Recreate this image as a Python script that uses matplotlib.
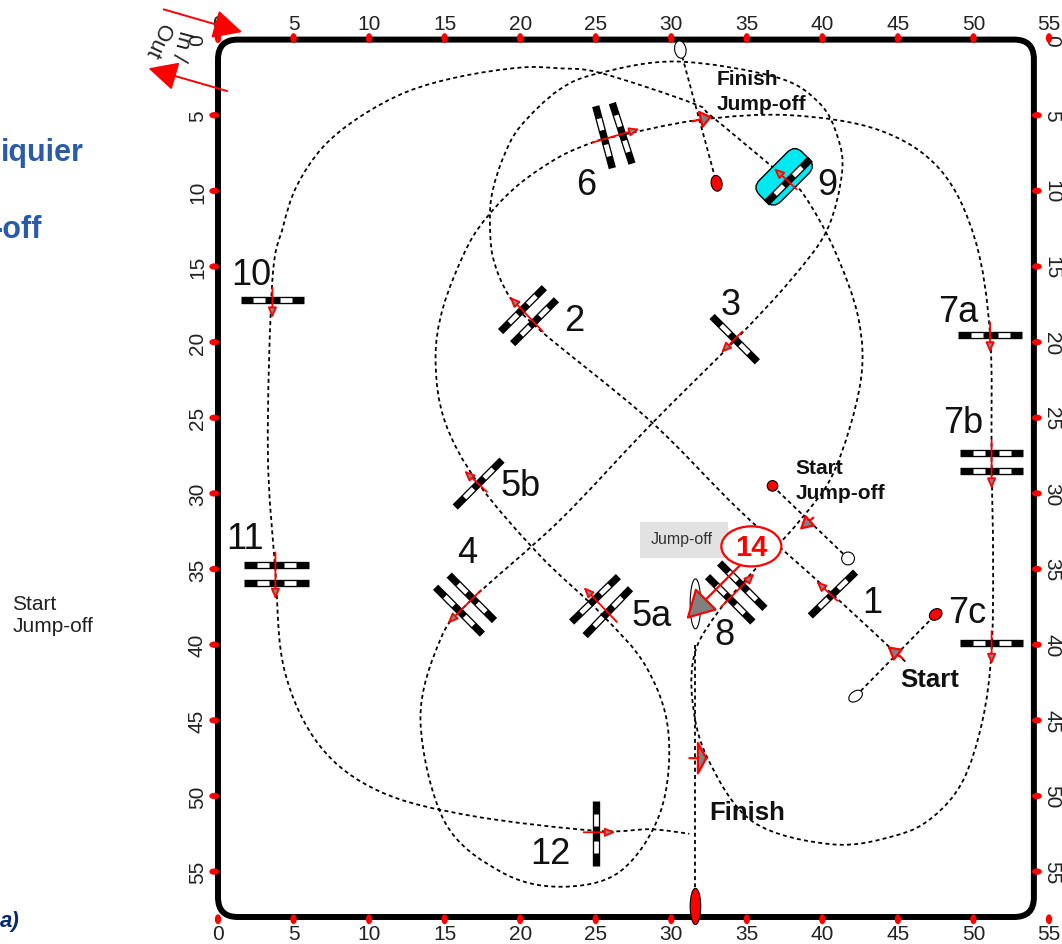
import matplotlib
matplotlib.use("Agg")
import matplotlib.pyplot as plt
from matplotlib.patches import Ellipse, FancyBboxPatch, Rectangle
from matplotlib.path import Path
from matplotlib.patches import PathPatch
from matplotlib.transforms import Affine2D

plt.rcParams['font.family'] = ['Liberation Sans', 'DejaVu Sans']

# arena, in metres
arena_w = 54
arena_h = 58
x_ticks = [0, 5, 10, 15, 20, 25, 30, 35, 40, 45, 50, 55]
y_ticks = [0, 5, 10, 15, 20, 25, 30, 35, 40, 45, 50, 55]

# course (x, y in metres)
route = [(45.5, 41.1), (44.7, 40.4), (40.6, 36.6), (34.5, 31.1), (28.6, 25.2), (21.3, 19.2),
         (19.3, 17.0), (18.2, 14.4), (18.0, 11.7), (18.2, 9.9), (18.9, 7.75), (20.0, 5.75),
         (22.6, 3.3), (25.3, 2.2), (30.4, 1.45), (37.0, 2.5), (39.8, 4.2), (41.0, 6.4),
         (41.3, 8.8), (40.3, 12.6), (37.9, 15.9), (34.2, 19.9), (28.6, 25.5),
         (22.6, 31.8), (16.7, 37.1), (14.7, 39.7), (13.4, 45.0), (15.0, 51.7), (18.7, 55.0),
         (22.6, 56.0), (26.6, 55.0), (29.3, 51.0), (29.8, 45.7), (28.3, 41.4), (25.3, 37.9),
         (21.3, 34.1), (17.2, 29.3), (15.0, 25.2), (14.4, 21.2), (14.9, 17.7), (16.5, 13.7),
         (18.0, 11.5), (20.0, 9.5), (22.6, 7.75), (24.8, 6.8), (26.3, 6.4), (31.9, 5.3),
         (37.9, 5.0), (43.8, 6.0), (47.8, 8.6), (50.1, 13.2), (51.1, 19.5), (51.2, 27.8),
         (51.3, 34.4), (51.2, 40.4), (50.6, 45.0), (49.3, 49.0), (47.3, 51.4), (44.9, 52.6),
         (40.7, 53.2), (35.4, 51.7), (32.4, 47.5), (31.4, 43.7), (31.6, 40.4), (33.2, 37.7),
         (35.2, 35.4), (38.5, 31.8), (40.8, 28.5), (42.5, 22.8), (42.4, 18.5), (40.8, 13.9),
         (38.8, 10.3), (37.5, 9.1), (32.7, 5.1), (31.4, 4.2), (25.3, 2.2), (22.6, 1.9),
         (20.0, 1.85), (16.0, 2.45), (12.5, 3.45), (9.4, 5.1), (6.95, 7.1), (5.2, 9.7),
         (4.3, 12.4), (3.6, 15.9), (3.3, 27.2), (3.8, 35.1), (4.4, 41.7), (6.75, 46.7),
         (10.7, 49.7), (16.7, 51.3), (25.0, 52.3), (28.6, 52.2), (31.2, 52.5)]
start_line = [(42.2, 43.4), (47.5, 38.0)]
jumpoff_start_line = [(36.7, 29.5), (41.7, 34.3)]
jumpoff_finish_line = [(30.6, 0.66), (33.0, 9.5)]
finish_line = [(31.6, 40.0), (31.6, 56.0)]

# fence rails, each (x0, y0, x1, y1)
rails = [(39.2, 38.1, 42.2, 35.2),
         (18.7, 19.3, 21.6, 16.4), (19.5, 20.1, 22.4, 17.2),
         (32.7, 18.3, 35.7, 21.3),
         (15.3, 35.4, 18.3, 38.4), (14.4, 36.2, 17.5, 39.3),
         (23.4, 38.5, 26.5, 35.5), (24.3, 39.4, 27.3, 36.3),
         (15.7, 30.9, 18.8, 27.8),
         (25.0, 4.4, 26.1, 8.5), (26.1, 4.2, 27.4, 8.2),
         (49.0, 19.5, 53.2, 19.5),
         (49.1, 27.3, 53.3, 27.3), (49.1, 28.5, 53.3, 28.5),
         (49.1, 39.9, 53.3, 39.9),
         (32.4, 35.5, 35.4, 38.5), (33.2, 34.6, 36.2, 37.6),
         (36.3, 10.8, 39.2, 7.9),
         (1.5, 17.2, 5.7, 17.2),
         (1.7, 34.7, 6.0, 34.7), (1.7, 35.9, 6.0, 35.9),
         (25.0, 50.3, 25.0, 54.6)]
stripe_breaks = [0.2, 0.39, 0.62, 0.81]

# small arrows on the fences, (tail x, tail y, tip x, tip y)
fence_arrows = [(41.0, 37.1, 39.6, 35.8), (21.5, 19.3, 19.3, 17.0), (34.7, 19.3, 33.3, 20.7),
                (17.4, 36.4, 15.2, 38.6), (26.4, 38.5, 24.2, 36.2), (17.8, 29.9, 16.3, 28.5),
                (24.8, 6.8, 27.9, 5.9), (51.1, 18.7, 51.1, 20.7), (51.2, 26.5, 51.2, 29.7),
                (51.2, 39.1, 51.2, 41.3), (33.3, 37.5, 35.5, 35.3), (38.3, 9.9, 36.8, 8.5),
                (3.6, 16.4, 3.6, 18.4), (3.8, 33.9, 3.8, 37.0), (24.2, 52.4, 26.3, 52.4)]
# arrows on start and finish lines, plus head length and half width in points
gate_arrows = [(45.3, 40.9, 44.3, 40.1, 8, 4.5), (39.4, 31.6, 38.5, 32.4, 8, 4.5),
               (31.4, 5.4, 32.7, 5.1, 7, 5.5), (31.2, 47.5, 32.4, 47.5, 6, 11),
               (34.8, 34.5, 31.0, 38.3, 18, 10)]
in_out_arrows = [(-3.6, -2.0, 1.6, -0.5), (0.6, 3.4, -4.6, 1.9)]

fence_labels = ['1', '2', '3', '4', '5a', '5b', '6', '7a', '7b', '7c', '8', '9', '10', '11', '12']
fence_label_x = [43.3, 23.6, 33.95, 16.5, 28.7, 20.0, 24.4, 49.0, 49.3, 49.6, 33.55, 40.3, 2.2, 1.8, 22.0]
fence_label_y = [37.2, 18.6, 17.5, 33.9, 38.1, 29.5, 9.6, 18.0, 25.3, 37.9, 39.3, 9.6, 15.5, 33.0, 53.8]

DOT = (0, (2.2, 1.8))


def smooth(points):
    # catmull-rom through the waypoints, as bezier pieces
    verts = [points[0]]
    codes = [Path.MOVETO]
    for i in range(len(points) - 1):
        p0 = points[max(i - 1, 0)]
        p1 = points[i]
        p2 = points[i + 1]
        p3 = points[min(i + 2, len(points) - 1)]
        c1 = (p1[0] + (p2[0] - p0[0]) / 6, p1[1] + (p2[1] - p0[1]) / 6)
        c2 = (p2[0] - (p3[0] - p1[0]) / 6, p2[1] - (p3[1] - p1[1]) / 6)
        verts += [c1, c2, p2]
        codes += [Path.CURVE4] * 3
    return Path(verts, codes)


def arrow(ax, tail, tip, length, width, face, lw=1.4, z=6):
    ax.annotate('', xy=tip, xytext=tail, annotation_clip=False, zorder=z,
                arrowprops=dict(arrowstyle='-|>,head_length=%g,head_width=%g' % (length, width),
                                mutation_scale=1, shrinkA=0, shrinkB=0, lw=lw,
                                ec='red', fc=face))


def mark(ax, x, y, w, h, face, angle=0):
    ax.add_patch(Ellipse((x, y), w, h, angle=angle, fc=face, ec='black', lw=0.8, zorder=5, clip_on=False))


fig = plt.figure(figsize=(10.62, 9.45), dpi=100)
ax = fig.add_axes([218 / 1062, 1 - 918 / 945, 831 / 1062, 877.4 / 945])
ax.set_xlim(0, 55)
ax.set_ylim(58, 0)
for s in ax.spines.values():
    s.set_visible(False)
ax.patch.set_alpha(0)

ax.set_xticks(x_ticks)
ax.set_yticks(y_ticks)
ax.tick_params(axis='x', top=True, bottom=True, labeltop=True, labelbottom=True, length=0, pad=5, labelsize=15, colors='#222222')
ax.tick_params(axis='y', left=True, right=False, labelleft=True, length=0, pad=8, labelsize=15, labelrotation=90, colors='#222222')
for lbl in ax.get_yticklabels():
    lbl.set_va('center')

right = ax.secondary_yaxis(arena_w / 55)
right.set_yticks(y_ticks)
right.tick_params(length=0, pad=6, labelsize=15, labelrotation=-90, colors='#222222')
right.spines['right'].set_visible(False)
for lbl in right.get_yticklabels():
    lbl.set_va('center')

# arena frame and red distance marks
ax.add_patch(FancyBboxPatch((0, 0), arena_w, arena_h, boxstyle='round,pad=0,rounding_size=1.3',
                            fc='none', ec='black', lw=4.3, zorder=2, clip_on=False))
for t in x_ticks:
    ax.add_patch(Ellipse((t, -0.1), 0.42, 0.65, fc='red', ec='none', zorder=3, clip_on=False))
    ax.add_patch(Ellipse((t, 58.15), 0.42, 0.65, fc='red', ec='none', zorder=3, clip_on=False))
for t in y_ticks[1:]:
    ax.add_patch(Ellipse((-0.25, t), 0.65, 0.42, fc='red', ec='none', zorder=3, clip_on=False))
    ax.add_patch(Ellipse((54.2, t), 0.65, 0.42, fc='red', ec='none', zorder=3, clip_on=False))

# dotted track and the straight lines through the gates
ax.add_patch(PathPatch(smooth(route), fc='none', ec='black', lw=1.3, ls=DOT, zorder=1, clip_on=False))
for line in [start_line, jumpoff_start_line, jumpoff_finish_line, finish_line]:
    ax.plot([p[0] for p in line], [p[1] for p in line], color='black', lw=1.3, ls=DOT, zorder=1)

# water at fence 9
water = FancyBboxPatch((37.47 - 2.0, 9.07 - 1.0), 4.0, 2.0, boxstyle='round,pad=0,rounding_size=0.7',
                       fc='#00e8f0', ec='black', lw=1.0, zorder=3)
water.set_transform(Affine2D().rotate_deg_around(37.47, 9.07, -45) + ax.transData)
ax.add_patch(water)

# fences
for x0, y0, x1, y1 in rails:
    ax.plot([x0, x1], [y0, y1], color='black', lw=5.3, solid_capstyle='butt', zorder=4)
    for a, b in [stripe_breaks[:2], stripe_breaks[2:]]:
        ax.plot([x0 + a * (x1 - x0), x0 + b * (x1 - x0)], [y0 + a * (y1 - y0), y0 + b * (y1 - y0)],
                color='white', lw=3.4, solid_capstyle='butt', zorder=4.5)

for x0, y0, x1, y1 in fence_arrows:
    arrow(ax, (x0, y0), (x1, y1), 6, 2.6, '#888888', lw=1.3)
for x0, y0, x1, y1, hl, hw in gate_arrows:
    arrow(ax, (x0, y0), (x1, y1), hl, hw, '#808080', lw=1.6)
for x0, y0, x1, y1 in in_out_arrows:
    arrow(ax, (x0, y0), (x1, y1), 18, 9, 'red', lw=1.4)

# start and finish posts
mark(ax, 42.2, 43.4, 1.0, 0.65, 'white', angle=-35)
mark(ax, 47.5, 38.0, 0.9, 0.7, 'red', angle=-35)
mark(ax, 36.7, 29.5, 0.7, 0.7, 'red')
mark(ax, 41.7, 34.3, 0.85, 0.85, 'white')
mark(ax, 30.6, 0.66, 0.75, 1.15, 'white', angle=-10)
mark(ax, 33.0, 9.5, 0.72, 1.05, 'red', angle=-10)
mark(ax, 31.6, 37.3, 0.7, 3.3, 'white')
mark(ax, 31.6, 57.3, 0.7, 2.4, 'red')

# fence numbers
for name, x, y in zip(fence_labels, fence_label_x, fence_label_y):
    ax.text(x, y, name, fontsize=26, ha='center', va='center', color='#111111', zorder=7)

ax.text(47.1, 42.3, 'Start', fontsize=18.5, fontweight='bold', ha='center', va='center', color='#111111', zorder=7)
ax.text(35.0, 51.05, 'Finish', fontsize=18.5, fontweight='bold', ha='center', va='center', color='#111111', zorder=7)
ax.text(33.0, 3.4, 'Finish\nJump-off', fontsize=15, fontweight='bold', ha='left', va='center', color='#111111', zorder=7, linespacing=1.42)
ax.text(38.2, 29.1, 'Start\nJump-off', fontsize=15, fontweight='bold', ha='left', va='center', color='#111111', zorder=7, linespacing=1.38)

# jump-off tag and fence count
ax.add_patch(Rectangle((27.9, 31.9), 5.85, 2.4, fc='#e2e2e2', ec='none', zorder=1.5))
ax.text(30.7, 33.0, 'Jump-off', fontsize=11.5, ha='center', va='center', color='#333333', zorder=2)
ax.add_patch(Ellipse((35.3, 33.5), 3.97, 2.65, fc='white', ec='red', lw=1.6, zorder=7))
ax.text(35.3, 33.55, '14', fontsize=21, fontweight='bold', color='red', ha='center', va='center', zorder=8)

# in / out gate
ax.text(-4.03, 0.0, 'Out', fontsize=16, rotation=-115, ha='center', va='center', color='#222222')
ax.text(-2.4, 0.33, 'In /', fontsize=16, rotation=-105, ha='center', va='center', color='#222222')

# text left of the plan, cut by the page edge
ax.text(-8.87, 7.4, 'iquier', fontsize=22, fontweight='bold', color='#2a5ba8', ha='right', va='center', clip_on=False)
ax.text(-11.65, 12.55, '-off', fontsize=22, fontweight='bold', color='#2a5ba8', ha='right', va='center', clip_on=False)
ax.text(-13.6, 38.0, 'Start\nJump-off', fontsize=15, color='#222222', ha='left', va='center', linespacing=1.25)
ax.text(-13.1, 58.2, 'a)', fontsize=16, fontweight='bold', style='italic', color='#0b2a6b', ha='right', va='center')

fig.savefig('out.png', dpi=100)
